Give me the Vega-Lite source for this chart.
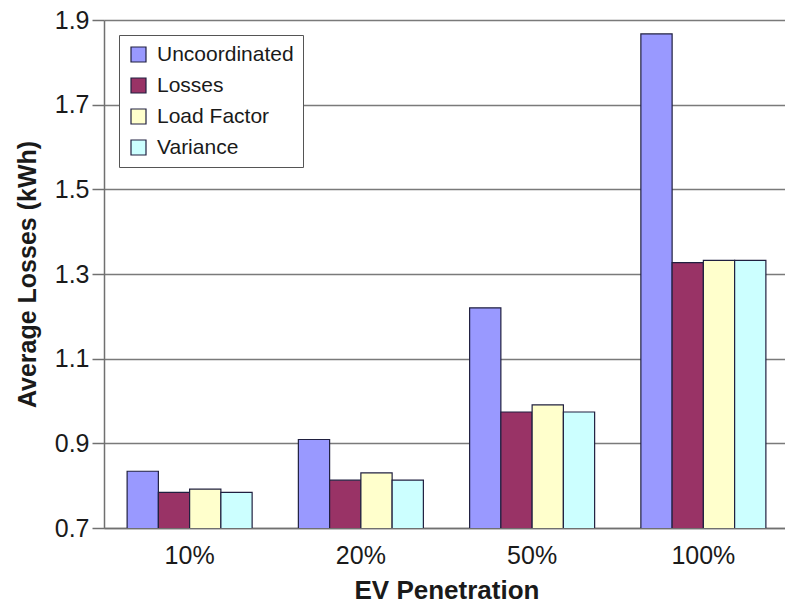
{
  "$schema": "https://vega.github.io/schema/vega-lite/v6.json",
  "autosize": "none",
  "width": 685,
  "height": 508,
  "padding": {"left": 104, "top": 20, "right": 0, "bottom": 75},
  "background": "white",
  "config": {
    "font": "Liberation Sans",
    "view": {"stroke": null},
    "axis": {"labelFont": "Liberation Sans", "titleFont": "Liberation Sans", "labelColor": "#1a1a1a", "titleColor": "#1a1a1a"}
  },
  "data": {
    "values": [
      {"pen": "10%", "method": "Uncoordinated", "loss": 0.834},
      {"pen": "10%", "method": "Losses", "loss": 0.784},
      {"pen": "10%", "method": "Load Factor", "loss": 0.792},
      {"pen": "10%", "method": "Variance", "loss": 0.784},
      {"pen": "20%", "method": "Uncoordinated", "loss": 0.909},
      {"pen": "20%", "method": "Losses", "loss": 0.813},
      {"pen": "20%", "method": "Load Factor", "loss": 0.830},
      {"pen": "20%", "method": "Variance", "loss": 0.813},
      {"pen": "50%", "method": "Uncoordinated", "loss": 1.220},
      {"pen": "50%", "method": "Losses", "loss": 0.974},
      {"pen": "50%", "method": "Load Factor", "loss": 0.991},
      {"pen": "50%", "method": "Variance", "loss": 0.974},
      {"pen": "100%", "method": "Uncoordinated", "loss": 1.867},
      {"pen": "100%", "method": "Losses", "loss": 1.327},
      {"pen": "100%", "method": "Load Factor", "loss": 1.332},
      {"pen": "100%", "method": "Variance", "loss": 1.332}
    ]
  },
  "mark": {"type": "bar", "stroke": "#202040", "strokeWidth": 1.2, "clip": true},
  "encoding": {
    "x": {
      "field": "pen", "type": "nominal", "sort": ["10%", "20%", "50%", "100%"],
      "scale": {"paddingInner": 0.27, "paddingOuter": 0.135},
      "axis": {
        "title": "EV Penetration", "titleFontSize": 26, "titleFontWeight": "bold", "titlePadding": 9,
        "labelAngle": 0, "labelFontSize": 25, "labelPadding": 15, "ticks": false,
        "domainColor": "#707070", "domainWidth": 1.5, "grid": false
      }
    },
    "xOffset": {"field": "method", "type": "nominal", "sort": ["Uncoordinated", "Losses", "Load Factor", "Variance"], "scale": {"paddingInner": 0, "paddingOuter": 0}},
    "y": {
      "field": "loss", "type": "quantitative",
      "scale": {"domain": [0.7, 1.9], "zero": false, "nice": false},
      "axis": {
        "title": "Average Losses (kWh)", "titleFontSize": 25, "titleFontWeight": "bold", "titlePadding": 14,
        "values": [0.7, 0.9, 1.1, 1.3, 1.5, 1.7, 1.9], "format": ".1f",
        "labelFontSize": 25, "labelPadding": 3, "tickSize": 12, "tickColor": "#707070", "tickWidth": 1.5,
        "domainColor": "#707070", "domainWidth": 1.5,
        "gridColor": "#7a7a7a", "gridWidth": 1.6
      }
    },
    "color": {
      "field": "method", "type": "nominal",
      "sort": ["Uncoordinated", "Losses", "Load Factor", "Variance"],
      "scale": {"domain": ["Uncoordinated", "Losses", "Load Factor", "Variance"], "range": ["#9999FF", "#993366", "#FFFFCC", "#CCFFFF"]},
      "legend": {
        "title": null, "orient": "none", "legendX": 15, "legendY": 15,
        "symbolType": "square", "symbolSize": 225, "symbolStrokeColor": "#202040", "symbolStrokeWidth": 1.2,
        "labelFontSize": 21, "labelFont": "Liberation Sans", "labelColor": "#1a1a1a", "labelOffset": 8,
        "rowPadding": 9, "padding": 9,
        "fillColor": "white", "strokeColor": "#555555"
      }
    }
  }
}
